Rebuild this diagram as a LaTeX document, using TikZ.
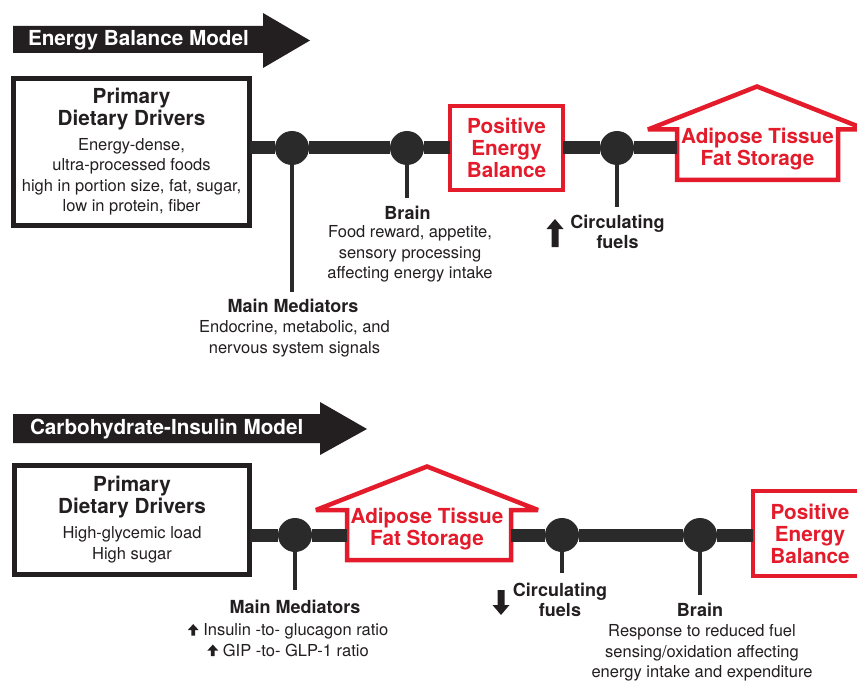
\documentclass[tikz,border=0pt]{standalone}
\usepackage{fontspec}
\setmainfont{TeX Gyre Heros}
\definecolor{ink}{HTML}{231F20}
\definecolor{lineg}{HTML}{2A2A2A}
\definecolor{redc}{HTML}{E31B2B}
\newcommand\fhead{\fontsize{20.7}{22}\selectfont\bfseries}
\newcommand\fbody{\fontsize{16.5}{20.5}\selectfont}
\newcommand\fmid{\fontsize{18}{20}\selectfont\bfseries}
\newcommand\uparr{\tikz[x=1pt,y=1pt,baseline=0pt]\fill[ink] (3.6,0) -- (7.4,0) -- (7.4,5.5) -- (11,5.5) -- (5.5,11.5) -- (0,5.5) -- (3.6,5.5) -- cycle;}
\begin{document}
\begin{tikzpicture}[x=1pt,y=-1pt,
  every node/.style={text=ink, inner sep=0pt, outer sep=0pt},
  mainline/.style={draw=lineg, line width=13pt},
  stem/.style={draw=lineg, line width=3.5pt},
  dot/.style={circle, fill=lineg, minimum size=34pt},
  blackbox/.style={draw=ink, line width=5pt, fill=white},
  redbox/.style={draw=redc, line width=4.5pt, fill=white},
  house/.style={draw=redc, line width=4.5pt, fill=white, line join=miter, miter limit=2},
  banner/.style={fill=ink},
  bannertext/.style={font=\fhead, text=white, anchor=west},
  head/.style={font=\fhead, align=center},
  body/.style={font=\fbody, align=center},
  mid/.style={font=\fmid, align=center},
  redtext/.style={font=\fhead, align=center, text=redc},
  bigarrow/.style={fill=ink}]
\useasboundingbox (0,0) rectangle (857,682);
\clip (0,0) rectangle (857,682);
\fill[white] (0,0) rectangle (857,682);

% ---------------- Energy Balance Model ----------------
\fill[banner] (13,26) -- (263,26) -- (263,13) -- (310,40.5) -- (263,68) -- (263,53) -- (13,53) -- cycle;
\node[bannertext] (b1) at (28,40) {Energy Balance Model};

\node[blackbox, minimum width=236pt, minimum height=147pt] (pdd1) at (131.5,152) {};
\node[head] (pdd1h) at (131.5,109) {Primary\\Dietary Drivers};
\node[body] (pdd1b) at (131.5,177) {Energy-dense,\\ultra-processed foods\\high in portion size, fat, sugar,\\low in protein, fiber};

\node[dot] (c1) at (292,148) {};
\node[dot] (c2) at (407,148) {};
\node[dot] (c3) at (617,148) {};
\node[redbox, redtext, minimum width=113pt, minimum height=84pt] (peb1) at (506.5,148) {Positive\\Energy\\Balance};

\draw[house] (677,180) -- (677,129.5) -- (648,129.5) -- (757,86.5) -- (866,129.5) -- (838,129.5) -- (838,180) -- cycle;
\coordinate (h1w) at (677,148);
\node[redtext] (h1t) at (757.5,149.5) {Adipose Tissue\\Fat Storage};

\draw[mainline] (pdd1.east |- c1) -- (c1) -- (c2) -- (peb1.west |- c2);
\draw[mainline] (peb1.east |- c3) -- (c3) -- (h1w);

\coordinate (s1) at (292,292);
\coordinate (s2) at (407,198);
\coordinate (s3) at (617,207);
\draw[stem] (c1) -- (s1);
\draw[stem] (c2) -- (s2);
\draw[stem] (c3) -- (s3);

\node[mid] (br1) at (407.5,213) {Brain};
\node[body] (br1b) at (410,254) {Food reward, appetite,\\sensory processing\\affecting energy intake};
\node[mid] (cf1) at (617.5,232) {Circulating\\fuels};
\fill[bigarrow] (555,219) -- (563.5,229) -- (558.5,229) -- (558.5,247) -- (551.5,247) -- (551.5,229) -- (546.5,229) -- cycle;
\node[mid] (mm1) at (293,306) {Main Mediators};
\node[body] (mm1b) at (294.5,339) {Endocrine, metabolic, and\\nervous system signals};

% ---------------- Carbohydrate-Insulin Model ----------------
\fill[banner] (13,414) -- (320,414) -- (320,402) -- (367,429) -- (320,455) -- (320,443) -- (13,443) -- cycle;
\node[bannertext] (b2) at (30,429) {Carbohydrate-Insulin Model};

\node[blackbox, minimum width=235pt, minimum height=109pt] (pdd2) at (132,520) {};
\node[head] (pdd2h) at (132,497.5) {Primary\\Dietary Drivers};
\node[body] (pdd2b) at (132,545) {High-glycemic load\\High sugar};

\node[dot] (d1) at (295,535) {};
\node[dot] (d2) at (562,535) {};
\node[dot] (d3) at (700,535) {};

\draw[house] (347,560) -- (347,510) -- (316,510) -- (427,466.5) -- (538,510) -- (511,510) -- (511,560) -- cycle;
\coordinate (h2w) at (347,535);
\coordinate (h2e) at (511,535);
\node[redtext] (h2t) at (427,529) {Adipose Tissue\\Fat Storage};

\node[redbox, redtext, minimum width=114pt, minimum height=85pt] (peb2) at (810,533.5) {Positive\\Energy\\Balance};

\draw[mainline] (pdd2.east |- d1) -- (d1) -- (h2w);
\draw[mainline] (h2e) -- (d2) -- (d3) -- (peb2.west |- d3);

\coordinate (t1) at (295,590);
\coordinate (t2) at (562,573);
\coordinate (t3) at (700,595);
\draw[stem] (d1) -- (t1);
\draw[stem] (d2) -- (t2);
\draw[stem] (d3) -- (t3);

\node[mid] (mm2) at (295,607) {Main Mediators};
\node[body] (mm2b) at (288,640) {\uparr\ Insulin -to- glucagon ratio\\\uparr\ GIP -to- GLP-1 ratio};
\node[mid] (cf2) at (560,600) {Circulating\\fuels};
\fill[bigarrow] (501,615) -- (509.5,605) -- (504.5,605) -- (504.5,590) -- (497.5,590) -- (497.5,605) -- (492.5,605) -- cycle;
\node[mid] (br2) at (700,610) {Brain};
\node[body] (br2b) at (702,653) {Response to reduced fuel\\sensing/oxidation affecting\\energy intake and expenditure};
\end{tikzpicture}
\end{document}
